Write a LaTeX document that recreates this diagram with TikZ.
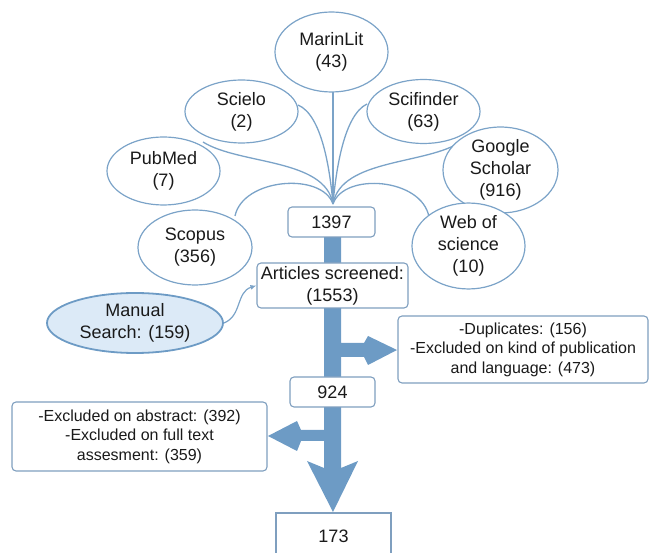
\documentclass[tikz,border=0pt]{standalone}
\usepackage{fontspec}
\setmainfont{Liberation Sans}
\usetikzlibrary{arrows.meta,shapes.geometric}
\definecolor{ellc}{HTML}{7BA3C8}
\definecolor{arrc}{HTML}{6D9BC5}
\definecolor{boxc}{HTML}{7F9FBF}
\definecolor{manfill}{HTML}{DCEAF7}
\definecolor{txtc}{HTML}{1A1A1A}
\begin{document}
\begin{tikzpicture}[x=1pt,y=-1pt,
  bigfont/.style={font=\fontsize{18}{22}\selectfont},
  smallfont/.style={font=\fontsize{16}{19.5}\selectfont},
  src/.style={ellipse, draw=ellc, line width=1.2pt, fill=white, inner sep=0pt, align=center, text=txtc, bigfont},
  stagebox/.style={draw=boxc, line width=1.1pt, rounded corners=4pt, fill=white, inner sep=0pt, align=center, text=txtc},
  feed/.style={draw=ellc, line width=1.3pt},
]
\useasboundingbox (0,0) rectangle (649,553);
\coordinate (hub) at (333,204);
% thick flow arrow
\fill[arrc] (324,237) -- (324,430) -- (301,430) -- (297,421) -- (268,436) -- (297,451) -- (301,441) -- (324,441) -- (324,468) -- (307,461) -- (333,512) -- (358,461) -- (341,468) -- (341,357) -- (364,357) -- (368,365) -- (397,350) -- (368,336) -- (364,343) -- (341,343) -- (341,237) -- cycle;
% feeder curves
\coordinate (cM) at (333,92);
\coordinate (cSe) at (298,105);
\coordinate (cSf) at (367,104);
\coordinate (cP) at (203,142);
\coordinate (cG) at (462,141);
\coordinate (cSc) at (235,216);
\coordinate (cW) at (429,217);
\draw[feed] (cM) -- (hub);
\draw[feed] (cSe) .. controls (322,115) and (330,170) .. (hub);
\draw[feed] (cSf) .. controls (344,115) and (336,170) .. (hub);
\draw[feed] (cP) .. controls (240,165) and (325,158) .. (hub);
\draw[feed] (cG) .. controls (428,165) and (341,158) .. (hub);
\draw[feed] (cSc) .. controls (243,178) and (322,172) .. (hub);
\draw[feed] (cW) .. controls (422,178) and (344,172) .. (hub);
% sources
\node[src, minimum width=113pt, minimum height=80pt] (marinlit) at (331.5,52) {MarinLit\\(43)};
\node[src, minimum width=113pt, minimum height=63pt] (scielo) at (241.5,111.5) {Scielo\\(2)};
\node[src, minimum width=113pt, minimum height=64pt] (scifinder) at (423.5,111.5) {Scifinder\\(63)};
\node[src, minimum width=113pt, minimum height=68pt] (pubmed) at (163.5,171) {PubMed\\(7)};
\node[src, minimum width=115pt, minimum height=74pt] (google) at (500.5,170) {Google\\Scholar\\(916)};
\node[src, minimum width=114pt, minimum height=75pt] (scopus) at (195,247.5) {Scopus\\(356)};
\node[src, minimum width=113pt, minimum height=78pt] (wos) at (468.5,246) {Web of\\science\\(10)};
\node[ellipse, draw=arrc, line width=1.8pt, fill=manfill, inner sep=0pt, align=center, text=txtc, bigfont, minimum width=176pt, minimum height=60pt] (manual) at (135,323) {Manual\\Search: (159)};
% boxes
\node[stagebox, bigfont, minimum width=87pt, minimum height=30pt] (b1397) at (331.5,222) {1397};
\node[stagebox, bigfont, minimum width=151pt, minimum height=45pt] (screened) at (332.5,285.5) {Articles screened:\\(1553)};
\node[stagebox, smallfont, minimum width=250pt, minimum height=67pt] (dup) at (523,349.5) {-Duplicates: (156)\\-Excluded on kind of publication\\and language: (473)};
\node[stagebox, bigfont, minimum width=85pt, minimum height=30pt] (b924) at (332.5,392) {924};
\node[stagebox, smallfont, minimum width=255pt, minimum height=69pt] (abs) at (139.5,436.5) {-Excluded on abstract: (392)\\-Excluded on full text\\assesment: (359)};
\node[draw=boxc, line width=1.6pt, fill=white, inner sep=0pt, text=txtc, bigfont, minimum width=115pt, minimum height=46pt] (b173) at (333.5,536) {173};
% manual search connector
\draw[feed, line width=1.2pt, -{Latex[length=6pt,width=5pt]}] (manual.east) .. controls (242,316) and (236,292) .. (screened.west |- 0,285.5);
\end{tikzpicture}
\end{document}
